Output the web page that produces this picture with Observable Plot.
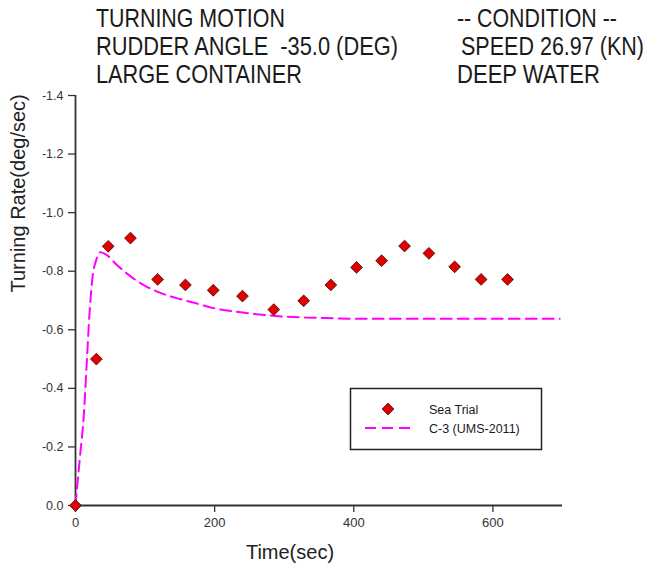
<!DOCTYPE html>
<html>
<head>
<meta charset="utf-8">
<script src="https://cdn.jsdelivr.net/npm/d3@7"></script>
<script src="https://cdn.jsdelivr.net/npm/@observablehq/plot@0.6"></script>
<style>
  html, body { margin: 0; padding: 0; background: #fff; }
  #wrap { position: relative; width: 646px; height: 573px; font-family: "Liberation Sans", Arial, sans-serif; }
  #wrap svg { display: block; }
  .overlay { position: absolute; left: 0; top: 0; pointer-events: none; }
</style>
</head>
<body>
<div id="wrap"></div>
<script>
// ---- data ----
const titleLeft = ["TURNING MOTION", "RUDDER ANGLE  -35.0 (DEG)", "LARGE CONTAINER"];
const titleRight = ["-- CONDITION --", "SPEED 26.97 (KN)", "DEEP WATER"];
const xLabel = "Time(sec)";
const yLabel = "Turning Rate(deg/sec)";
const seriesNames = ["Sea Trial", "C-3 (UMS-2011)"];

// Sea trial measurements (time in sec, turning rate in deg/sec)
const trialTime = [0, 30, 47, 79, 118, 158, 198, 240, 285, 328, 367, 404, 440, 473, 508, 545, 583, 621];
const trialRate = [0, -0.50, -0.885, -0.913, -0.772, -0.753, -0.735, -0.715, -0.669, -0.699, -0.753, -0.813, -0.836, -0.886, -0.861, -0.815, -0.772, -0.772];

// C-3 (UMS-2011) simulation curve
const simTime = [0, 3, 7, 12, 16, 20, 24, 30, 36, 45, 60, 75, 100, 121, 150, 169, 198, 240, 288, 330, 360, 400, 500, 600, 696];
const simRate = [0, -0.08, -0.18, -0.31, -0.48, -0.65, -0.77, -0.84, -0.865, -0.855, -0.82, -0.79, -0.75, -0.727, -0.705, -0.693, -0.674, -0.659, -0.647, -0.642, -0.640, -0.638, -0.638, -0.638, -0.638];

const xTicks = [0, 200, 400, 600];
const yTicks = [0, -0.2, -0.4, -0.6, -0.8, -1.0, -1.2, -1.4];

// ---- build tables ----
const trial = trialTime.map((t, i) => ({t, r: trialRate[i]}));
const sim = simTime.map((t, i) => ({t, r: simRate[i]}));

const magenta = "#ff00ff";
const red = "#e00000";
const axisColor = "#333";

const chart = Plot.plot({
  width: 646,
  height: 573,
  marginLeft: 75,
  marginRight: 84,
  marginTop: 95,
  marginBottom: 68,
  style: {fontFamily: "'Liberation Sans', Arial, sans-serif", background: "#fff"},
  x: {domain: [0, 700]},
  y: {domain: [0, -1.4]},
  marks: [
    Plot.axisX(xTicks, {tickSize: 7, tickPadding: 5, fontSize: 13, color: axisColor, stroke: axisColor, strokeWidth: 1.3, label: null, tickFormat: d => String(d)}),
    Plot.axisY(yTicks, {tickSize: 7, tickPadding: 5, fontSize: 12.5, color: axisColor, stroke: axisColor, strokeWidth: 1.3, label: null, tickFormat: d => d.toFixed(1).replace("-0.0", "0.0")}),
    Plot.ruleY([0], {stroke: axisColor, strokeWidth: 1.8}),
    Plot.ruleX([0], {stroke: axisColor, strokeWidth: 1.8}),
    Plot.line(sim, {x: "t", y: "r", stroke: magenta, strokeWidth: 2, strokeDasharray: "11,6", curve: "monotone-x"}),
    Plot.dot(trial, {x: "t", y: "r", symbol: "diamond2", r: 5.3, fill: red, stroke: "#400", strokeWidth: 0.8}),
    Plot.text([xLabel], {frameAnchor: "bottom", dx: -29, dy: 53, fontSize: 20, fill: "#222"}),
    Plot.text([yLabel], {frameAnchor: "left", rotate: -90, dx: -57, dy: -8, fontSize: 20, fill: "#222"})
  ]
});

const wrap = document.getElementById("wrap");
wrap.appendChild(chart);

// ---- title + legend overlay ----
const ns = "http://www.w3.org/2000/svg";
const ov = document.createElementNS(ns, "svg");
ov.setAttribute("class", "overlay");
ov.setAttribute("width", 646);
ov.setAttribute("height", 573);
wrap.appendChild(ov);

const leftWidths = [189, 302, 206];
const rightX = [457, 461, 457];
const rightWidths = [160, 183, 143];
const baselines = [27, 55, 83];

function addText(str, x, y, size, len) {
  const t = document.createElementNS(ns, "text");
  t.setAttribute("font-size", size);
  t.setAttribute("font-family", "'Liberation Sans', Arial, sans-serif");
  t.setAttribute("fill", "#1a1a1a");
  t.setAttribute("xml:space", "preserve");
  t.style.whiteSpace = "pre";
  t.textContent = str;
  ov.appendChild(t);
  if (len) {
    // condense horizontally to the measured width of the reference text
    t.setAttribute("x", 0);
    t.setAttribute("y", 0);
    const natural = t.getComputedTextLength();
    const sx = natural > 0 ? len / natural : 0.82;
    t.setAttribute("transform", `translate(${x},${y}) scale(${sx},1)`);
  } else {
    t.setAttribute("x", x);
    t.setAttribute("y", y);
  }
  return t;
}

titleLeft.forEach((s, i) => addText(s, 96, baselines[i], 26, leftWidths[i]));
titleRight.forEach((s, i) => addText(s, rightX[i], baselines[i], 26, rightWidths[i]));

// legend box
const box = document.createElementNS(ns, "rect");
box.setAttribute("x", 350.5); box.setAttribute("y", 388.5);
box.setAttribute("width", 191); box.setAttribute("height", 61);
box.setAttribute("fill", "#fff"); box.setAttribute("stroke", "#222"); box.setAttribute("stroke-width", 1.5);
ov.appendChild(box);

const dia = document.createElementNS(ns, "path");
dia.setAttribute("d", d3.symbol(d3.symbolDiamond2, 5.3 * 5.3 * Math.PI)());
dia.setAttribute("transform", "translate(388,409)");
dia.setAttribute("fill", red); dia.setAttribute("stroke", "#400"); dia.setAttribute("stroke-width", 0.8);
ov.appendChild(dia);

const ln = document.createElementNS(ns, "line");
ln.setAttribute("x1", 365); ln.setAttribute("x2", 411);
ln.setAttribute("y1", 428); ln.setAttribute("y2", 428);
ln.setAttribute("stroke", magenta); ln.setAttribute("stroke-width", 2);
ln.setAttribute("stroke-dasharray", "11,6");
ov.appendChild(ln);

addText(seriesNames[0], 429, 413.5, 12.5, null);
addText(seriesNames[1], 429, 432.5, 12.5, null);
</script>
</body>
</html>
